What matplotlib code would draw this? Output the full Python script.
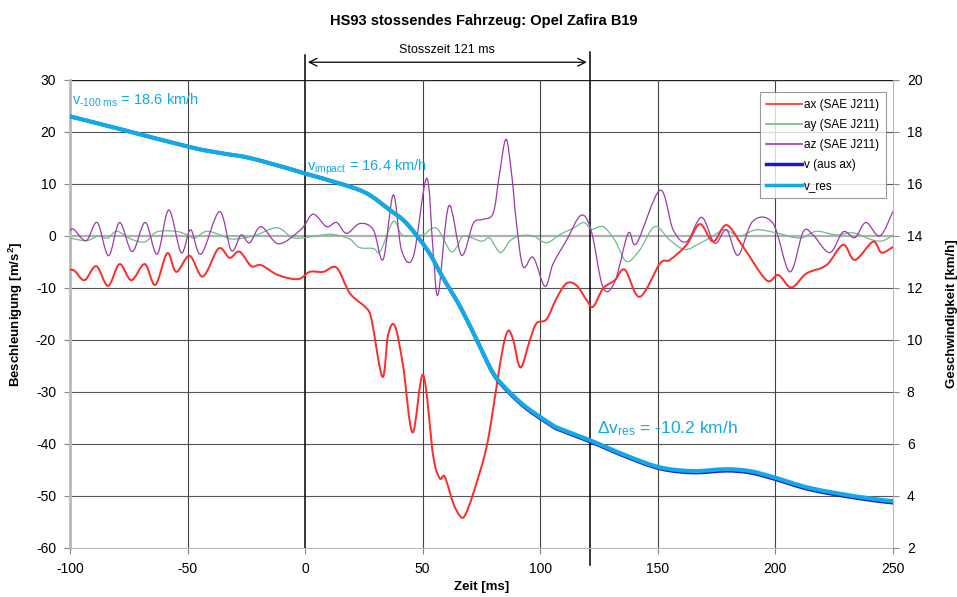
import matplotlib
matplotlib.use("Agg")
import matplotlib.pyplot as plt
from matplotlib.lines import Line2D
from matplotlib.path import Path
from matplotlib.patches import PathPatch

plt.rcParams['font.family'] = ['Liberation Sans', 'DejaVu Sans']
plt.rcParams['mathtext.fontset'] = 'custom'
plt.rcParams['mathtext.rm'] = 'Liberation Sans'
plt.rcParams['mathtext.it'] = 'Liberation Sans'
plt.rcParams['axes.unicode_minus'] = False

# ax (SAE J211)
t_ax = [-100, -98, -93.8, -88.8, -83.8, -78.9, -73.9, -68.2, -63.7, -58.6, -54.8, -49.1, -43.5,
        -36.8, -32.1, -27.9, -22.9, -18.7, -11.6, -3.1, 2, 7.7, 13.4, 19, 26.1, 28.3, 32.9, 35.3,
        38.2, 41.7, 45.7, 50.2, 54.5, 57.3, 59.4, 63, 65.8, 67.9, 71.5, 77.2, 81.4, 84.2, 86.4,
        88.5, 91.6, 95.6, 98.4, 102.7, 106.9, 111.2, 115.4, 119.7, 122.5, 126.7, 131.7, 136,
        142.3, 150.9, 155.1, 162.2, 167.9, 173.5, 179.2, 186.3, 196.2, 201.2, 206.8, 213.2,
        221.7, 228.8, 233.8, 241.5, 245.1, 250]
a_x = [-6.5, -6.7, -8.5, -5.8, -9.6, -5.4, -8.5, -5.4, -9.4, -3.3, -6.9, -3.8, -7.8,
       -2.4, -4.2, -3.0, -5.8, -5.6, -7.5, -8.3, -6.9, -6.9, -6.1, -11.0, -13.9, -16.2, -27.1, -19.0,
       -17.3, -25.1, -37.8, -26.7, -42.4, -46.6, -46.3, -51.4, -53.8, -53.8, -49.5, -40.5, -29.0, -21.3, -18.2,
       -20.0, -25.3, -20.0, -16.8, -16.0, -12.0, -9.1, -9.5, -12.3, -13.6, -10.1, -8.5, -6.5,
       -11.7, -5.3, -4.6, -1.7, 2.3, -1.1, 2.1, -2.1, -8.5, -7.5, -9.9, -7.2,
       -5.6, -1.7, -4.6, -1.1, -3.2, -2.1]

# ay (SAE J211)
t_ay = [-100, -93, -88, -84, -80, -74, -68, -63, -55, -50, -47, -42, -36, -31, -22, -12, -6, -2,
        6, 12, 19, 23, 29, 32, 37.5, 41, 46, 50.5, 55.9, 61.8, 64.7, 67.5, 75, 78.5, 83, 87, 91,
        97, 102.7, 108.4, 114, 118.5, 121.8, 126.7, 131.7, 136.7, 142.3, 148.7, 155.1, 161.5,
        167.9, 173.5, 178.5, 184.8, 191.9, 200.4, 210.3, 217.4, 225.9, 233, 241.5, 245.8, 250]
a_y = [-0.4, -0.9, 0, -0.4, 0.9, -0.6, -1.1, 0.8, 0.9, 0.2, -0.4, 0.9, 0.2, -0.6, 0, 1.6, -0.2, -0.4,
       0.1, 0.3, -0.6, -2.2, -2.4, -2.9, 2.8, 0.3, 0, 0.3, 1.5, -2.9, -2.0, 0, -1.0, -0.4, -3.2, -1.0, 0,
       0, -1.3, 0.3, 1.5, 2.6, 1.3, 1.8, -0.8, -4.9, -2.7, 1.8, -0.8, -2.6,
       -1.4, 0, 1.2, 0, 1.2, 0.6, -0.4, 0.9, 0.2, 0.6, -0.8, -0.9, 0.2]

# az (SAE J211)
t_az = [-100, -98.4, -93.1, -88.4, -83.6, -78.9, -73.5, -68, -62.9, -58, -52.7, -48.7, -44.2,
        -36.4, -31.4, -27.2, -23.6, -18.7, -11.3, -1.7, 3.4, 9.1, 13.4, 17.6, 23.3, 29, 33.2,
        37.5, 41, 46, 51.7, 54.5, 56.6, 61.1, 66.5, 71.5, 75.7, 80, 82.5, 85.4, 87.8, 89.9, 92.7,
        97, 102, 105.5, 111.2, 117.4, 121.8, 126.7, 131.7, 137.4, 141, 150.9, 156.5, 162.2,
        168.6, 174.2, 179.2, 184.1, 190.5, 199, 206.1, 211.8, 216, 223.1, 228.8, 233.8, 238.5,
        244.4, 250]
a_z = [1.0, 1.3, -0.9, 2.6, -3.8, 2.6, -3.0, 2.6, -3.5, 5.0, -3.2, 1.2, -3.5,
       4.7, -2.8, 0.2, -1.3, 1.8, -1.5, 1.3, 4.2, 1.8, 2.6, 0.5, 2.4, 1.2, -4.5,
       7.9, -2.7, -4.0, 11.1, -3.3, -11.2, 5.8, -3.7, 2.4, 3.2, 4.4, 11.4, 18.6, 12.0, 2.4, -5.9,
       -4.1, -9.7, -5.3, -0.8, 4.0, 0.8, -9.9, -8.8, 0.5, -1.4, 8.8, 1.2, -1.1,
       3.6, -1.4, 1.2, -3.7, 2.9, 2.4, -6.9, 0.8, 0.2, -3.2, 0.8, -0.3, 2.6,
       0, 4.7]

# speeds
t_v = [-100, -79, -49, -36, -23.5, -5, 0, 14, 26, 36, 43, 52, 58.6, 66, 73, 80, 86, 94, 104,
       108, 121, 137, 151, 165, 179, 189, 199, 215, 236, 250]
v_res = [18.6, 18.12, 17.42, 17.19, 17.0, 16.54, 16.4, 16.04, 15.65, 15.0, 14.5, 13.46, 12.4,
         11.27, 10.0, 8.73, 8.08, 7.42, 6.8, 6.6, 6.15, 5.54, 5.1, 4.96, 5.03, 4.96, 4.73, 4.3,
         3.96, 3.8]
v_ax = [18.6, 18.12, 17.42, 17.19, 17.0, 16.54, 16.4, 16.04, 15.65, 15.0, 14.5, 13.46, 12.4,
        11.27, 10.0, 8.70, 8.04, 7.37, 6.75, 6.55, 6.10, 5.49, 5.05, 4.90, 4.97, 4.90, 4.67, 4.24,
        3.90, 3.74]

t_impact_end = 121

c_red = '#ff2a2a'
c_green = '#6fba8c'
c_purple = '#9b3aa8'
c_blue = '#1a1ad0'
c_cyan = '#13a9e6'


def smooth_line(axis, xs, ys, **kw):
    # Excel-style smoothed line: bezier segments through the data points
    n = len(xs)
    verts = [(xs[0], ys[0])]
    codes = [Path.MOVETO]
    for i in range(n - 1):
        i0 = max(i - 1, 0)
        i3 = min(i + 2, n - 1)
        c1 = (xs[i] + (xs[i + 1] - xs[i0]) / 6, ys[i] + (ys[i + 1] - ys[i0]) / 6)
        c2 = (xs[i + 1] - (xs[i3] - xs[i]) / 6, ys[i + 1] - (ys[i3] - ys[i]) / 6)
        verts += [c1, c2, (xs[i + 1], ys[i + 1])]
        codes += [Path.CURVE4] * 3
    patch = PathPatch(Path(verts, codes), facecolor='none', capstyle='round',
                      joinstyle='round', **kw)
    axis.add_patch(patch)
    return patch


fig = plt.figure(figsize=(9.57, 5.97), dpi=100)
ax = fig.add_axes([0.0731, 0.0821, 0.86, 0.7839])

# grid
for yv in range(-50, 30, 10):
    if yv == 0:
        ax.axhline(yv, color='#b0b0b0', lw=1.6, zorder=1)
    else:
        ax.axhline(yv, color='#555555', lw=0.8, zorder=1)
ax.axhline(30, color='#222222', lw=1.0, zorder=1)
for xv in [-50, 50, 100, 150, 200]:
    ax.axvline(xv, color='#444444', lw=0.8, zorder=1)
ax.axvline(0, ymin=0, ymax=1.053, color='black', lw=1.1, clip_on=False, zorder=2)
ax.axvline(t_impact_end, ymin=-0.036, ymax=1.06, color='black', lw=1.1, clip_on=False, zorder=2)

smooth_line(ax, t_ay, a_y, edgecolor=c_green, lw=0.9, zorder=3)
smooth_line(ax, t_az, a_z, edgecolor=c_purple, lw=0.9, zorder=4)
smooth_line(ax, t_ax, a_x, edgecolor=c_red, lw=1.4, zorder=5)

ax.set_xlim(-100, 250)
ax.set_ylim(-60, 30)
ax.set_xticks(range(-100, 251, 50))
ax.set_yticks(range(-60, 31, 10))
ax.tick_params(direction='out', length=4, color='#888888', labelsize=10, pad=6)
for s in ['left', 'bottom', 'right']:
    ax.spines[s].set_color('#b8b8b8')
ax.spines['left'].set_linewidth(2)
ax.spines['top'].set_visible(False)
ax.set_xlabel('Zeit [ms]', fontweight='bold', fontsize=9.5, labelpad=4)
ax.set_ylabel('Beschleunigung [m/s$^{\\mathregular{2}}$]', fontweight='bold', fontsize=9.5)
ax.yaxis.set_label_coords(-0.055, 0.5)

ax2 = ax.twinx()
smooth_line(ax2, t_v, v_ax, edgecolor=c_blue, lw=2.6, zorder=3)
smooth_line(ax2, t_v, v_res, edgecolor=c_cyan, lw=3.0, zorder=4)
ax2.set_ylim(2, 20)
ax2.set_yticks(range(2, 21, 2))
ax2.tick_params(direction='out', length=4, color='#888888', labelsize=10, pad=6)
for s in ax2.spines.values():
    s.set_visible(False)
ax2.set_ylabel('Geschwindigkeit [km/h]', fontweight='bold', fontsize=9.5)
ax2.yaxis.set_label_coords(1.065, 0.5)

# annotations
ax2.text(-99, 19.05, r'v$_{\mathregular{\text{-100 ms}}}$ = 18.6 km/h', color=c_cyan, fontsize=10.5)
ax2.text(1, 16.5, r'v$_{\mathregular{impact}}$ = 16.4 km/h', color=c_cyan, fontsize=10.5)
ax2.text(124, 6.4, r'$\Delta$v$_{\mathregular{res}}$ = -10.2 km/h', color=c_cyan, fontsize=12.5)

ax.annotate('', xy=(0, 1.038), xytext=(t_impact_end, 1.038), xycoords=('data', 'axes fraction'),
            arrowprops=dict(arrowstyle='<->', color='black', lw=0.9, mutation_scale=14),
            annotation_clip=False)
ax.text(t_impact_end / 2, 1.052, 'Stosszeit 121 ms', transform=ax.get_xaxis_transform(),
        ha='center', va='bottom', fontsize=9)

fig.text(0.505, 0.965, 'HS93 stossendes Fahrzeug: Opel Zafira B19', ha='center', va='center',
         fontweight='bold', fontsize=10.5)

handles = [Line2D([], [], color=c_red, lw=1.2), Line2D([], [], color=c_green, lw=1.2),
           Line2D([], [], color=c_purple, lw=1.2), Line2D([], [], color=c_blue, lw=2.5),
           Line2D([], [], color=c_cyan, lw=2.5)]
labels = ['ax (SAE J211)', 'ay (SAE J211)', 'az (SAE J211)', 'v (aus ax)', 'v_res']
leg = ax2.legend(handles, labels, loc='upper left', bbox_to_anchor=(0.838, 0.974), fontsize=8.5,
                 frameon=True, fancybox=False, handlelength=3.0, handletextpad=0.2,
                 labelspacing=0.7, borderpad=0.55, borderaxespad=0)
leg.get_frame().set_edgecolor('#808080')
leg.get_frame().set_linewidth(0.8)
leg.set_zorder(10)

fig.savefig('out.png', dpi=100)
